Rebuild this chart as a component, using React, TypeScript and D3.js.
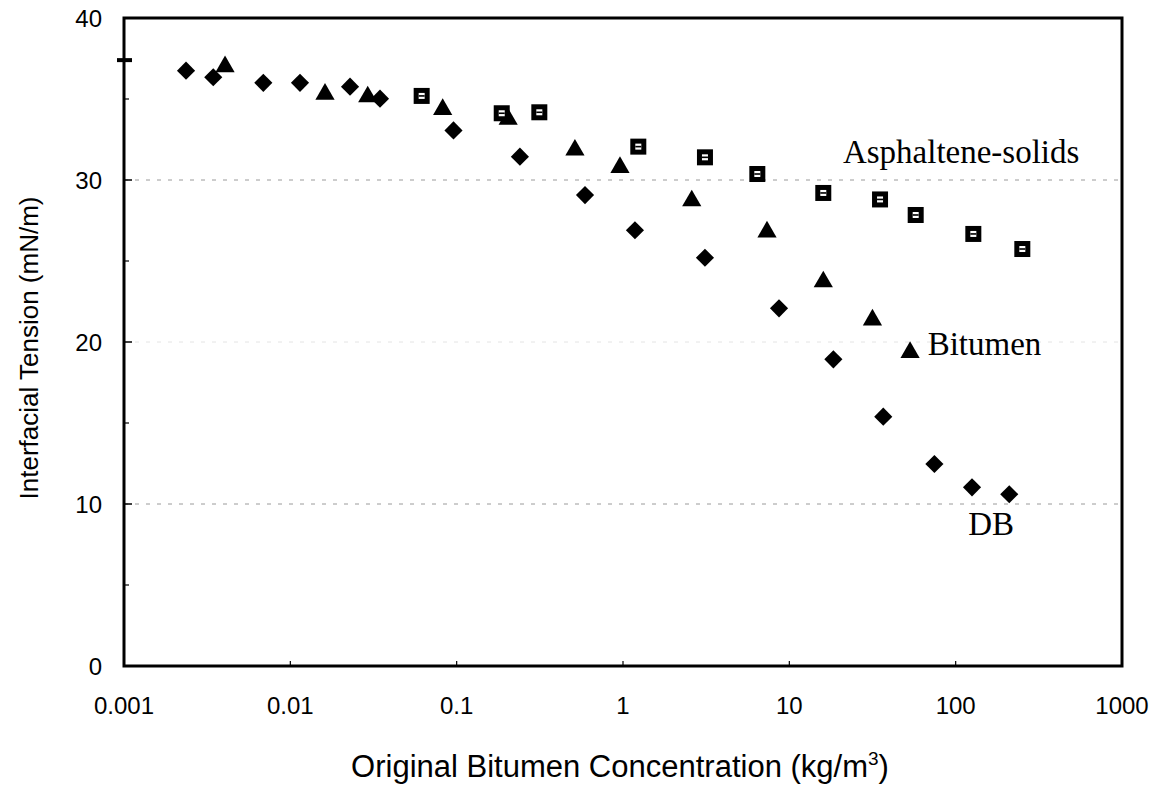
import React from "react";
import * as d3 from "d3";

const dbX = [0.00236, 0.00344, 0.00688, 0.01143, 0.02285, 0.0346, 0.0957, 0.24, 0.591, 1.18, 3.11, 8.67, 18.4, 36.7, 74.5, 125.4, 210];
const dbY = [36.75, 36.34, 36.0, 36.0, 35.76, 35.02, 33.06, 31.44, 29.07, 26.9, 25.2, 22.08, 18.93, 15.39, 12.47, 11.03, 10.6];

const bitX = [0.00405, 0.01616, 0.0292, 0.0824, 0.204, 0.514, 0.959, 2.59, 7.34, 16.0, 31.6, 53.2];
const bitY = [37.0, 35.3, 35.14, 34.36, 33.75, 31.85, 30.78, 28.72, 26.8, 23.72, 21.36, 19.36];

const asX = [0.0616, 0.1866, 0.314, 1.236, 3.11, 6.42, 16.0, 35.1, 57.5, 127.7, 251.6];
const asY = [35.19, 34.12, 34.18, 32.06, 31.4, 30.37, 29.2, 28.8, 27.84, 26.67, 25.74];

const xTicks = [0.001, 0.01, 0.1, 1, 10, 100, 1000];
const xTickLabels = ["0.001", "0.01", "0.1", "1", "10", "100", "1000"];
const yTicks = [0, 10, 20, 30, 40];
const yMinor = [5, 15, 25, 35];
const gridY = [10, 20, 30];
const pureTension = 37.4;

const labels = [
  { text: "Asphaltene-solids", x: 21, y: 31.05 },
  { text: "Bitumen", x: 67.9, y: 19.2 },
  { text: "DB", x: 119, y: 8.09 },
];

export default function App() {
  const W = 1163, H = 798;
  const x = d3.scaleLog().domain([0.001, 1000]).range([124, 1122]);
  const y = d3.scaleLinear().domain([0, 40]).range([666, 18]);
  const sans = "'Liberation Sans', Arial, sans-serif";
  const serif = "'Liberation Serif', 'Times New Roman', serif";
  const diamond = d3.symbol().type(d3.symbolDiamond2).size(210)() as string;
  const tri = d3.symbol().type(d3.symbolTriangle).size(160)() as string;

  return (
    <svg width={W} height={H} style={{ position: "absolute", left: 0, top: 0, background: "#fff" }}>
      <rect x={0} y={0} width={W} height={H} fill="#fff" />
      {gridY.map((g) => (
        <line key={g} x1={x(0.001)} x2={x(1000)} y1={y(g)} y2={y(g)}
          stroke={g === 20 ? "#e4e4e4" : "#9a9a9a"} strokeWidth={1} strokeDasharray="4 7" />
      ))}
      <rect x={x(0.001)} y={y(40)} width={x(1000) - x(0.001)} height={y(0) - y(40)}
        fill="none" stroke="#000" strokeWidth={3} />
      {yTicks.map((t) => (
        <g key={t}>
          <line x1={x(0.001)} x2={x(0.001) + 8} y1={y(t)} y2={y(t)} stroke="#000" strokeWidth={1.5} />
          <text x={102} y={y(t)} dy="0.36em" textAnchor="end" fontFamily={sans} fontSize={24}>{t}</text>
        </g>
      ))}
      {yMinor.map((t) => (
        <line key={t} x1={x(0.001)} x2={x(0.001) + 5} y1={y(t)} y2={y(t)} stroke="#000" strokeWidth={1.2} />
      ))}
      <line x1={x(0.001) - 7} x2={x(0.001) + 8} y1={y(pureTension)} y2={y(pureTension)} stroke="#000" strokeWidth={4} />
      {xTicks.map((t, i) => (
        <g key={t}>
          <line x1={x(t)} x2={x(t)} y1={y(0)} y2={y(0) - 5} stroke="#000" strokeWidth={1.2} />
          <text x={x(t)} y={714} textAnchor="middle" fontFamily={sans} fontSize={24}>{xTickLabels[i]}</text>
        </g>
      ))}
      <text x={620} y={777} textAnchor="middle" fontFamily={sans} fontSize={31}>
        Original Bitumen Concentration (kg/m<tspan dy={-12} fontSize={19}>3</tspan><tspan dy={12}>)</tspan>
      </text>
      <text transform={`translate(38,${348}) rotate(-90)`} textAnchor="middle" fontFamily={sans} fontSize={26}>
        Interfacial Tension (mN/m)
      </text>
      {dbX.map((v, i) => (
        <path key={"d" + i} d={diamond} transform={`translate(${x(v)},${y(dbY[i])})`} fill="#000" />
      ))}
      {bitX.map((v, i) => (
        <path key={"b" + i} d={tri} transform={`translate(${x(v)},${y(bitY[i])})`} fill="#000" />
      ))}
      {asX.map((v, i) => (
        <g key={"a" + i} transform={`translate(${x(v)},${y(asY[i])})`}>
          <rect x={-8} y={-8} width={16} height={16} fill="#000" />
          <rect x={-3} y={-3} width={6} height={6} fill="#fff" />
          <rect x={-3} y={-0.8} width={6} height={1.6} fill="#000" />
        </g>
      ))}
      {labels.map((l) => (
        <text key={l.text} x={x(l.x)} y={y(l.y)} fontFamily={serif} fontSize={33}>{l.text}</text>
      ))}
    </svg>
  );
}
